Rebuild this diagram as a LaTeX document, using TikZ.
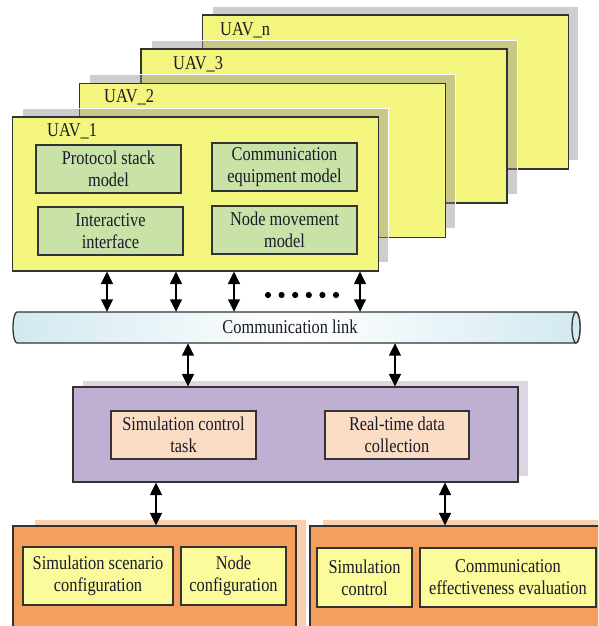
\documentclass[tikz,border=0pt]{standalone}
\usepackage{fontspec}
\setmainfont[FakeStretch=0.84]{Liberation Serif}
\usetikzlibrary{arrows.meta,calc}
\definecolor{uavyellow}{HTML}{F3F57F}
\definecolor{modgreen}{HTML}{C8E2A8}
\definecolor{ctrlpurple}{HTML}{BFAFD2}
\definecolor{ctrlshadow}{HTML}{DDD5E6}
\definecolor{taskpeach}{HTML}{FBDDC6}
\definecolor{toolorange}{HTML}{F4A05C}
\definecolor{toolshadow}{HTML}{FAD0B0}
\definecolor{itemyellow}{HTML}{FBFB9C}
\definecolor{linkblue}{HTML}{D2E9F0}
\definecolor{edge}{HTML}{333333}
\definecolor{ink}{HTML}{1A1A28}
\tikzset{
  every node/.style={font=\fontsize{19.5}{22}\selectfont, text=ink, inner sep=0pt, align=center},
  frame/.style={draw=edge, line width=1.3pt, rectangle},
  uavbox/.style={frame, fill=uavyellow, minimum width=366pt, minimum height=154pt},
  uavshadow/.style={fill=black!45, fill opacity=0.42, draw=white, line width=0.8pt},
  module/.style={frame, fill=modgreen, minimum width=145pt, minimum height=48pt},
  task/.style={frame, fill=taskpeach, minimum width=145pt, minimum height=48pt},
  item/.style={frame, fill=itemyellow, minimum height=58pt},
  link/.style={draw=edge, line width=1.3pt},
  biarrow/.style={line width=1.5pt, draw=black, {Triangle[width=12pt,length=12.5pt]}-{Triangle[width=12pt,length=12.5pt]}},
}
\begin{document}
\begin{tikzpicture}[x={(1pt,0pt)}, y={(0pt,-1pt)}]
\useasboundingbox (0,0) rectangle (598,626);
\clip (0,0) rectangle (598,626);
\fill[white] (0,0) rectangle (598,626);

% stacked UAV frames, back to front, each with its drop shadow
\foreach \cx/\cy/\nm in {385.5/92/uavn, 324/126/uav3, 262.5/160.5/uav2, 195.5/194/uav1}{
  \fill[uavshadow] (\cx-173,\cy-86) rectangle (\cx+193,\cy+68);
  \node[uavbox] (\nm) at (\cx,\cy) {};
}
\node[anchor=west] (luavn) at (220,30) {UAV\_n};
\node[anchor=west] (luav3) at (173,64) {UAV\_3};
\node[anchor=west] (luav2) at (104,97) {UAV\_2};
\node[anchor=west] (luav1) at (47,131) {UAV\_1};

% models inside UAV_1
\node[module] (proto) at (108.5,169) {Protocol stack\\model};
\node[module] (equip) at (284.5,167) {Communication\\equipment model};
\node[module] (iface) at (110.5,231) {Interactive\\interface};
\node[module] (move)  at (284.5,230) {Node movement\\model};

% communication link (horizontal cylinder)
\node[minimum width=567pt, minimum height=31pt] (link) at (296.5,327.5) {};
\shade[left color=linkblue, right color=linkblue, middle color=white]
  (17,312) -- (576,312) arc (90:-90:4pt and 15.5pt) -- (17,343)
  arc (-90:-270:4pt and 15.5pt) -- cycle;
\draw[link] (17,312) -- (576,312) arc (90:-90:4pt and 15.5pt) -- (17,343)
  arc (-90:-270:4pt and 15.5pt) -- cycle;
\draw[link, fill=linkblue] (576,327.5) ellipse (4pt and 15.5pt);
\node (linktext) at (290,327) {Communication link};

% UAV_1 <-> link
\foreach \ax in {107,176,234,360}{
  \draw[biarrow] (uav1.south -| \ax,0) -- (link.north -| \ax,0);
}
\foreach \i in {0,...,5}{
  \fill[black] (268+\i*13.6,295) circle (3.1pt);
}

% simulation control layer
\fill[ctrlshadow] (83,381) rectangle (528,476);
\node[frame, fill=ctrlpurple, minimum width=445pt, minimum height=95pt] (ctrl) at (295.5,434.5) {};
\node[task] (simtask) at (183.5,435) {Simulation control\\task};
\node[task, minimum width=144pt] (rtdata) at (397,435) {Real-time data\\collection};

\draw[biarrow] (link.south -| 188,0) -- (ctrl.north -| 188,0);
\draw[biarrow] (link.south -| 395,0) -- (ctrl.north -| 395,0);

% configuration and evaluation tools
\fill[toolshadow] (35,520) rectangle (306,660);
\fill[toolshadow] (323,520) rectangle (620,660);
\node[frame, fill=toolorange, minimum width=283pt, minimum height=124pt] (cfg) at (154.5,588) {};
\node[frame, fill=toolorange, minimum width=300pt, minimum height=124pt] (eval) at (460,588) {};
\node[item, minimum width=150pt] (scen) at (98,576) {Simulation scenario\\configuration};
\node[item, minimum width=105pt] (nodecfg) at (233.5,576) {Node\\configuration};
\node[item, minimum width=95pt, minimum height=59pt] (simctl) at (364.5,577.5) {Simulation\\control};
\node[item, minimum width=176pt, minimum height=59pt] (effect) at (508,577.5) {Communication\\effectiveness evaluation};

\draw[biarrow] (ctrl.south -| 156,0) -- (cfg.north -| 156,0);
\draw[biarrow] (ctrl.south -| 445,0) -- (eval.north -| 445,0);
\end{tikzpicture}
\end{document}
